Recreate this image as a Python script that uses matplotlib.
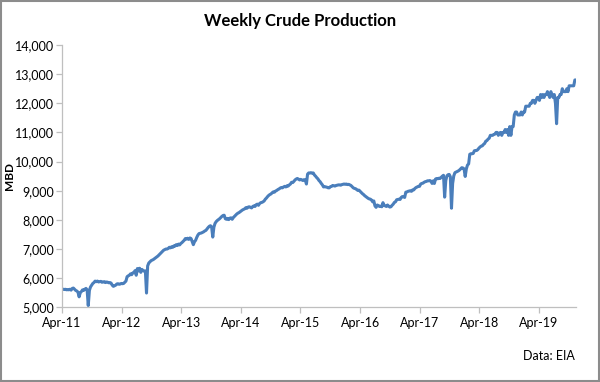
import numpy as np
import pandas as pd
import matplotlib
matplotlib.use("Agg")
import matplotlib.pyplot as plt
import matplotlib.dates as mdates
from matplotlib.ticker import FuncFormatter, MultipleLocator
from matplotlib.patches import Rectangle

# weekly US crude production, thousand b/d (first week = 2011-04-01)
start = "2011-04-01"
prod_2011 = [5630, 5620, 5610, 5620, 5600, 5610, 5600, 5620, 5590, 5650, 5660, 5620, 5580,
             5560, 5520, 5360, 5500, 5540, 5600, 5580, 5620, 5650, 5600, 5060, 5580, 5700,
             5760, 5820, 5850, 5900, 5880, 5900, 5870, 5880, 5890, 5860, 5870, 5880, 5850, 5870]
prod_2012 = [5860, 5840, 5850, 5830, 5760, 5720, 5740, 5760, 5800, 5810, 5790, 5800, 5820,
             5810, 5820, 5860, 5900, 6050, 6080, 6100, 6150, 6120, 6180, 6200, 6260, 6100,
             6330, 6250, 6340, 6200, 6300, 6260, 6240, 6250, 5490, 6420, 6520, 6560, 6600,
             6620, 6640, 6670, 6700, 6730, 6760, 6800, 6840, 6880, 6920, 6960, 6980, 7000]
prod_2013 = [7000, 7020, 7060, 7040, 7080, 7060, 7110, 7100, 7150, 7120, 7170, 7140, 7190,
             7220, 7260, 7300, 7360, 7340, 7370, 7330, 7380, 7360, 7260, 7150, 7250, 7300,
             7400, 7480, 7530, 7540, 7550, 7570, 7590, 7620, 7640, 7690, 7740, 7780, 7800,
             7760, 7410, 7750, 7880, 7940, 7980, 8010, 8040, 8080, 8120, 8150, 8160, 8040]
prod_2014 = [8020, 8050, 8010, 8060, 8070, 8020, 8080, 8120, 8160, 8200, 8230, 8250, 8280,
             8310, 8340, 8360, 8380, 8420, 8400, 8440, 8450, 8430, 8410, 8460, 8480, 8460,
             8520, 8540, 8500, 8560, 8590, 8600, 8620, 8650, 8710, 8750, 8800, 8840, 8870,
             8890, 8930, 8960, 8950, 8990, 9010, 9040, 9060, 9090, 9110, 9100, 9130, 9150]
prod_2015 = [9130, 9170, 9160, 9200, 9230, 9290, 9280, 9320, 9370, 9400, 9420, 9400, 9370,
             9390, 9370, 9350, 9380, 9370, 9230, 9570, 9610, 9610, 9620, 9600, 9610, 9540,
             9500, 9450, 9410, 9350, 9310, 9250, 9200, 9130, 9140, 9130, 9120, 9100, 9100,
             9140, 9150, 9180, 9170, 9160, 9180, 9190, 9200, 9200, 9190, 9210, 9220, 9230]
prod_2016 = [9220, 9230, 9210, 9220, 9200, 9180, 9140, 9100, 9080, 9070, 9040, 9010, 9020,
             8980, 8940, 8900, 8870, 8830, 8800, 8770, 8740, 8720, 8710, 8680, 8620, 8650,
             8480, 8430, 8510, 8490, 8460, 8470, 8450, 8590, 8500, 8480, 8460, 8510, 8470,
             8440, 8450, 8500, 8540, 8600, 8620, 8690, 8700, 8710, 8700, 8770, 8800, 8790, 8770]
prod_2017 = [8950, 8960, 8980, 8990, 9000, 8980, 9030, 9030, 9080, 9110, 9130, 9150, 9150,
             9230, 9250, 9260, 9290, 9310, 9320, 9340, 9340, 9350, 9330, 9250, 9340, 9250,
             9400, 9420, 9410, 9430, 9420, 9460, 9500, 9530, 8780, 9350, 9510, 9550, 9560,
             9480, 8400, 9250, 9510, 9620, 9640, 9660, 9680, 9710, 9750, 9790, 9780, 9750]
prod_2018 = [9490, 9750, 9880, 9920, 10250, 10270, 10270, 10280, 10370, 10380, 10380, 10410, 10460,
             10500, 10530, 10540, 10590, 10620, 10700, 10720, 10770, 10800, 10900, 10900, 10900, 10930,
             10940, 11000, 11000, 10900, 10980, 11000, 10900, 11000, 11000, 11100, 11000, 11100, 10900,
             11200, 10900, 11200, 11200, 11600, 11700, 11700, 11600, 11600, 11600, 11700, 11600, 11700]
prod_2019 = [11700, 11900, 11900, 11900, 11900, 12000, 12000, 12100, 12100, 12000, 12100, 12200, 12200,
             12100, 12300, 12200, 12300, 12200, 12300, 12300, 12400, 12300, 12200, 12400, 12300, 12200,
             12300, 12000, 11300, 12200, 12200, 12300, 12300, 12500, 12400, 12400, 12400, 12500, 12400,
             12600, 12600, 12600, 12600, 12600, 12800, 12800]

values = prod_2011 + prod_2012 + prod_2013 + prod_2014 + prod_2015 + prod_2016 + prod_2017 + prod_2018 + prod_2019
dates = pd.date_range(start, periods=len(values), freq="7D")

LINE = "#4A7EBB"; AXIS = "#BFBFBF"
plt.rcParams["font.family"] = ["Lato", "DejaVu Sans"]

fig = plt.figure(figsize=(6, 3.82), dpi=100)
ax = fig.add_axes([0.1033, 0.1955, 0.8567, 0.6867])
ax.plot(dates, values, color=LINE, lw=2.2, solid_joinstyle="round")

ax.set_xlim(dates[0], dates[-1])
ax.set_ylim(5000, 14000)
ax.yaxis.set_major_locator(MultipleLocator(1000))
ax.yaxis.set_major_formatter(FuncFormatter(lambda v, p: f"{int(v):,}"))
ax.xaxis.set_major_locator(mdates.MonthLocator(bymonth=4))
ax.xaxis.set_major_formatter(mdates.DateFormatter("%b-%y"))

for s in ("top", "right"):
    ax.spines[s].set_visible(False)
for s in ("left", "bottom"):
    ax.spines[s].set_color(AXIS); ax.spines[s].set_linewidth(0.9)
ax.tick_params(axis="both", colors=AXIS, labelcolor="black", labelsize=9, length=4, width=0.9)
ax.tick_params(axis="x", pad=3)
ax.tick_params(axis="y", pad=2)

ax.set_ylabel("MBD", fontsize=8.5, fontweight="bold")
ax.yaxis.set_label_coords(-0.092, 0.5)
fig.text(0.5, 0.945, "Weekly Crude Production", ha="center", va="center", fontsize=12, fontweight="bold")
fig.text(0.958, 0.068, "Data: EIA", ha="right", va="center", fontsize=9)

fig.patches.append(Rectangle((0.002, 0.003), 0.996, 0.994, transform=fig.transFigure,
                             fill=False, edgecolor="#8C8C8C", lw=1.5))
fig.savefig("out.png", dpi=100)
